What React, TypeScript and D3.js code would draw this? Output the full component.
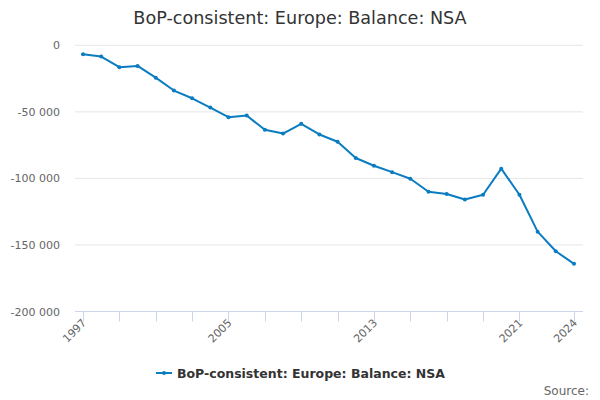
import * as d3 from "d3";

const width = 600;
const height = 400;
const plot = { left: 75, right: 583, top: 45.3, bottom: 311.5 };

const years = [
  1997, 1998, 1999, 2000, 2001, 2002, 2003, 2004, 2005, 2006, 2007, 2008, 2009, 2010,
  2011, 2012, 2013, 2014, 2015, 2016, 2017, 2018, 2019, 2020, 2021, 2022, 2023, 2024,
];
const balance = [
  -6700, -8500, -16400, -15500, -24300, -34000, -39800, -46800, -54000, -52800, -63500,
  -66300, -59000, -67000, -72500, -84700, -90500, -95300, -100300, -110000, -111700,
  -115900, -112300, -92700, -112300, -140000, -154700, -164200,
];
const yTicks = [0, -50000, -100000, -150000, -200000];
const xTicks = [1997, 1999, 2001, 2003, 2005, 2007, 2009, 2011, 2013, 2015, 2017, 2019, 2021, 2024];
const xLabels = [1997, 2005, 2013, 2021, 2024];

const title = "BoP-consistent: Europe: Balance: NSA";
const seriesName = "BoP-consistent: Europe: Balance: NSA";
const color = "#0a7cc1";
const font = "'DejaVu Sans', sans-serif";

export default function App() {
  const x = d3.scaleLinear().domain([1997, 2024]).range([83, 574]);
  const y = d3.scaleLinear().domain([-200000, 0]).range([plot.bottom, plot.top]);
  const fmt = (v: number) => d3.format(",")(v).replace(/,/g, " ").replace("−", "-");
  const line = d3
    .line<number>()
    .x((_, i) => x(years[i]))
    .y((d) => y(d));

  return (
    <svg
      width={width}
      height={height}
      style={{ position: "absolute", left: 0, top: 0, background: "#fff" }}
      fontFamily={font}
    >
      <text x={300} y={24} textAnchor="middle" fontSize={17.6} fill="#333">
        {title}
      </text>

      {yTicks.map((t) => (
        <g key={t}>
          {t !== -200000 && (
            <line x1={plot.left} x2={plot.right} y1={y(t)} y2={y(t)} stroke="#e6e6e6" />
          )}
          <text x={60} y={y(t) + 4} textAnchor="end" fontSize={11} fill="#666">
            {fmt(t)}
          </text>
        </g>
      ))}

      <line x1={plot.left} x2={plot.right} y1={plot.bottom} y2={plot.bottom} stroke="#ccd6eb" />
      {xTicks.map((t) => (
        <line
          key={t}
          x1={Math.round(x(t)) + 0.5}
          x2={Math.round(x(t)) + 0.5}
          y1={plot.bottom}
          y2={plot.bottom + 10}
          stroke="#ccd6eb"
        />
      ))}
      {xLabels.map((t) => (
        <text
          key={t}
          transform={`translate(${x(t) + 4},${plot.bottom + 12}) rotate(-45)`}
          textAnchor="end"
          fontSize={11}
          fill="#666"
        >
          {t}
        </text>
      ))}

      <path d={line(balance) ?? ""} fill="none" stroke={color} strokeWidth={2} strokeLinejoin="round" />
      {balance.map((v, i) => (
        <circle key={i} cx={x(years[i])} cy={y(v)} r={2} fill={color} />
      ))}

      <g transform="translate(156,373)">
        <line x1={0} x2={16} y1={0} y2={0} stroke={color} strokeWidth={2} />
        <circle cx={8} cy={0} r={2} fill={color} />
        <text x={21} y={4.5} fontSize={12.5} fontWeight="bold" fill="#333">
          {seriesName}
        </text>
      </g>

      <text x={589} y={395} textAnchor="end" fontSize={12} fill="#666">
        Source:
      </text>
    </svg>
  );
}
